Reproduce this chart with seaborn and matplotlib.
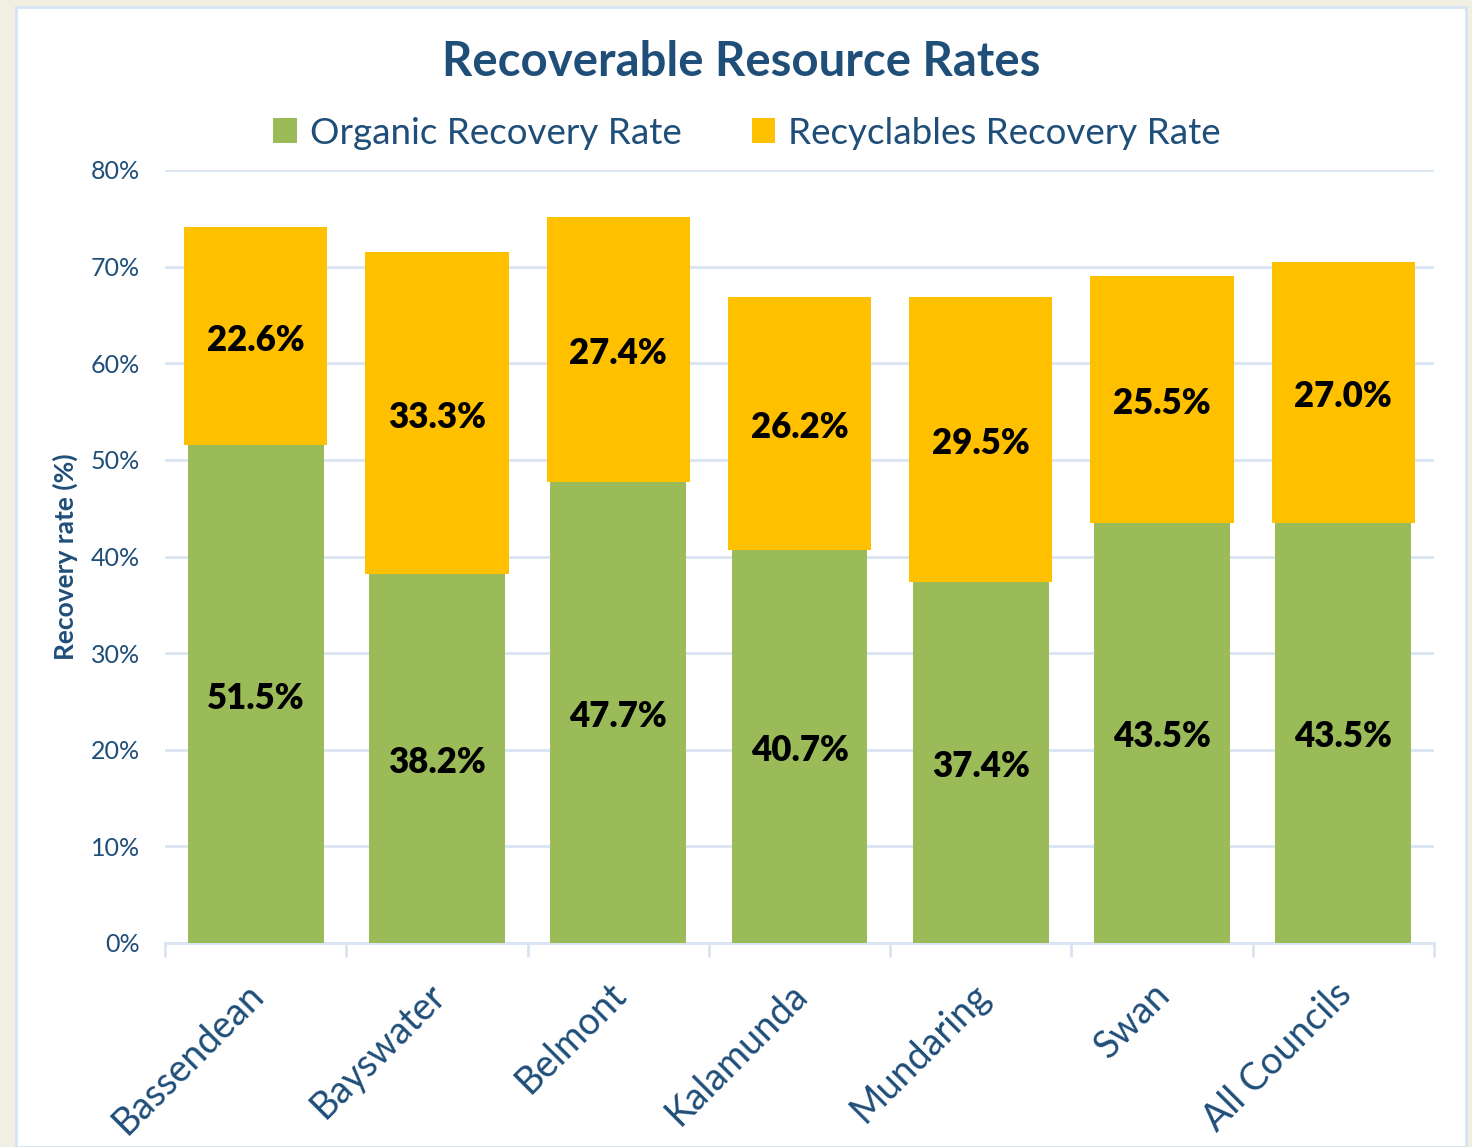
import seaborn as sns
import pandas as pd
import numpy as np
import matplotlib.pyplot as plt
from matplotlib.patches import Rectangle
from matplotlib.transforms import ScaledTranslation

# data
councils = ["Bassendean", "Bayswater", "Belmont", "Kalamunda", "Mundaring", "Swan", "All Councils"]
organic = [51.5, 38.2, 47.7, 40.7, 37.4, 43.5, 43.5]
recyclables = [22.6, 33.3, 27.4, 26.2, 29.5, 25.5, 27.0]

df = pd.DataFrame({"council": councils, "organic": organic, "recyclables": recyclables})

navy = "#1F4E79"
green = "#9BBB59"
yellow = "#FFC000"
grid_blue = "#D9E5F3"

sns.set_theme(style="white")
plt.rcParams["font.family"] = ["Lato", "DejaVu Sans"]

fig = plt.figure(figsize=(14.72, 11.47), dpi=100)
fig.patch.set_facecolor("#F1EEE2")
# white panel with light blue border
W, H = 1472, 1147
fig.patches.append(Rectangle((16 / W, 0), (1466 - 16) / W, (H - 7) / H, transform=fig.transFigure,
                             facecolor="white", edgecolor="#D5E3F2", linewidth=2, zorder=-1))

ax = fig.add_axes([165 / W, 1 - 943 / H, (1434 - 165) / W, (943 - 170) / H])
ax.set_facecolor("none")
ax.set_zorder(2)

sns.barplot(data=df, x="council", y="organic", color=green, width=0.75, saturation=1,
            ax=ax, label="Organic Recovery Rate", zorder=3, linewidth=0)
sns.barplot(data=df, x="council", y="recyclables", bottom=df["organic"], color=yellow, width=0.79,
            saturation=1, ax=ax, label="Recyclables Recovery Rate", zorder=3, linewidth=0)

# value labels centred in each segment
down = ScaledTranslation(0, -4 / 100, fig.dpi_scale_trans)
for i, (o, r) in enumerate(zip(organic, recyclables)):
    ax.text(i, o / 2, f"{o:.1f}%", ha="center", va="center", fontsize=25, fontweight="heavy",
            color="black", zorder=5, transform=ax.transData + down)
    ax.text(i, o + r / 2, f"{r:.1f}%", ha="center", va="center", fontsize=25, fontweight="heavy",
            color="black", zorder=5, transform=ax.transData + down)

ax.set_ylim(0, 80)
ax.set_xlim(-0.5, len(councils) - 0.5)
ax.set_yticks(np.arange(0, 81, 10))
ax.set_yticklabels([f"{v}%" for v in range(0, 81, 10)], fontsize=18, color=navy)
ax.yaxis.grid(True, color=grid_blue, linewidth=2, zorder=0)
ax.set_axisbelow(True)
ax.tick_params(axis="y", length=0, pad=18)

ax.set_xticks(range(len(councils)))
ax.set_xticklabels(councils, rotation=45, ha="right", rotation_mode="anchor", fontsize=27, color=navy)
ax.tick_params(axis="x", which="major", length=0, pad=24)
shift = ScaledTranslation(-10 / 100, 0, fig.dpi_scale_trans)
for lbl in ax.get_xticklabels():
    lbl.set_transform(lbl.get_transform() + shift)
ax.set_xticks(np.arange(-0.5, len(councils), 1), minor=True)
ax.tick_params(axis="x", which="minor", length=10, width=2, color=grid_blue, direction="out", bottom=True)
ax.set_xlabel("")

for s in ["top", "right", "left"]:
    ax.spines[s].set_visible(False)
ax.spines["bottom"].set_color(grid_blue)
ax.spines["bottom"].set_linewidth(2)

ax.set_ylabel("Recovery rate (%)", fontsize=19, fontweight="bold", color=navy, labelpad=9)

fig.text(741 / W, 1 - 62 / H, "Recoverable Resource Rates", ha="center", va="center",
         fontsize=34, fontweight="bold", color=navy)

leg = ax.legend(loc="center", bbox_to_anchor=((747 - 165) / (1434 - 165), (943 - 133) / (943 - 170)),
                ncol=2, frameon=False, fontsize=26.5, handlelength=0.65, handleheight=0.65,
                columnspacing=1.9, handletextpad=0.35)
for t in leg.get_texts():
    t.set_color(navy)

fig.savefig("out.png", dpi=100, facecolor=fig.get_facecolor())
